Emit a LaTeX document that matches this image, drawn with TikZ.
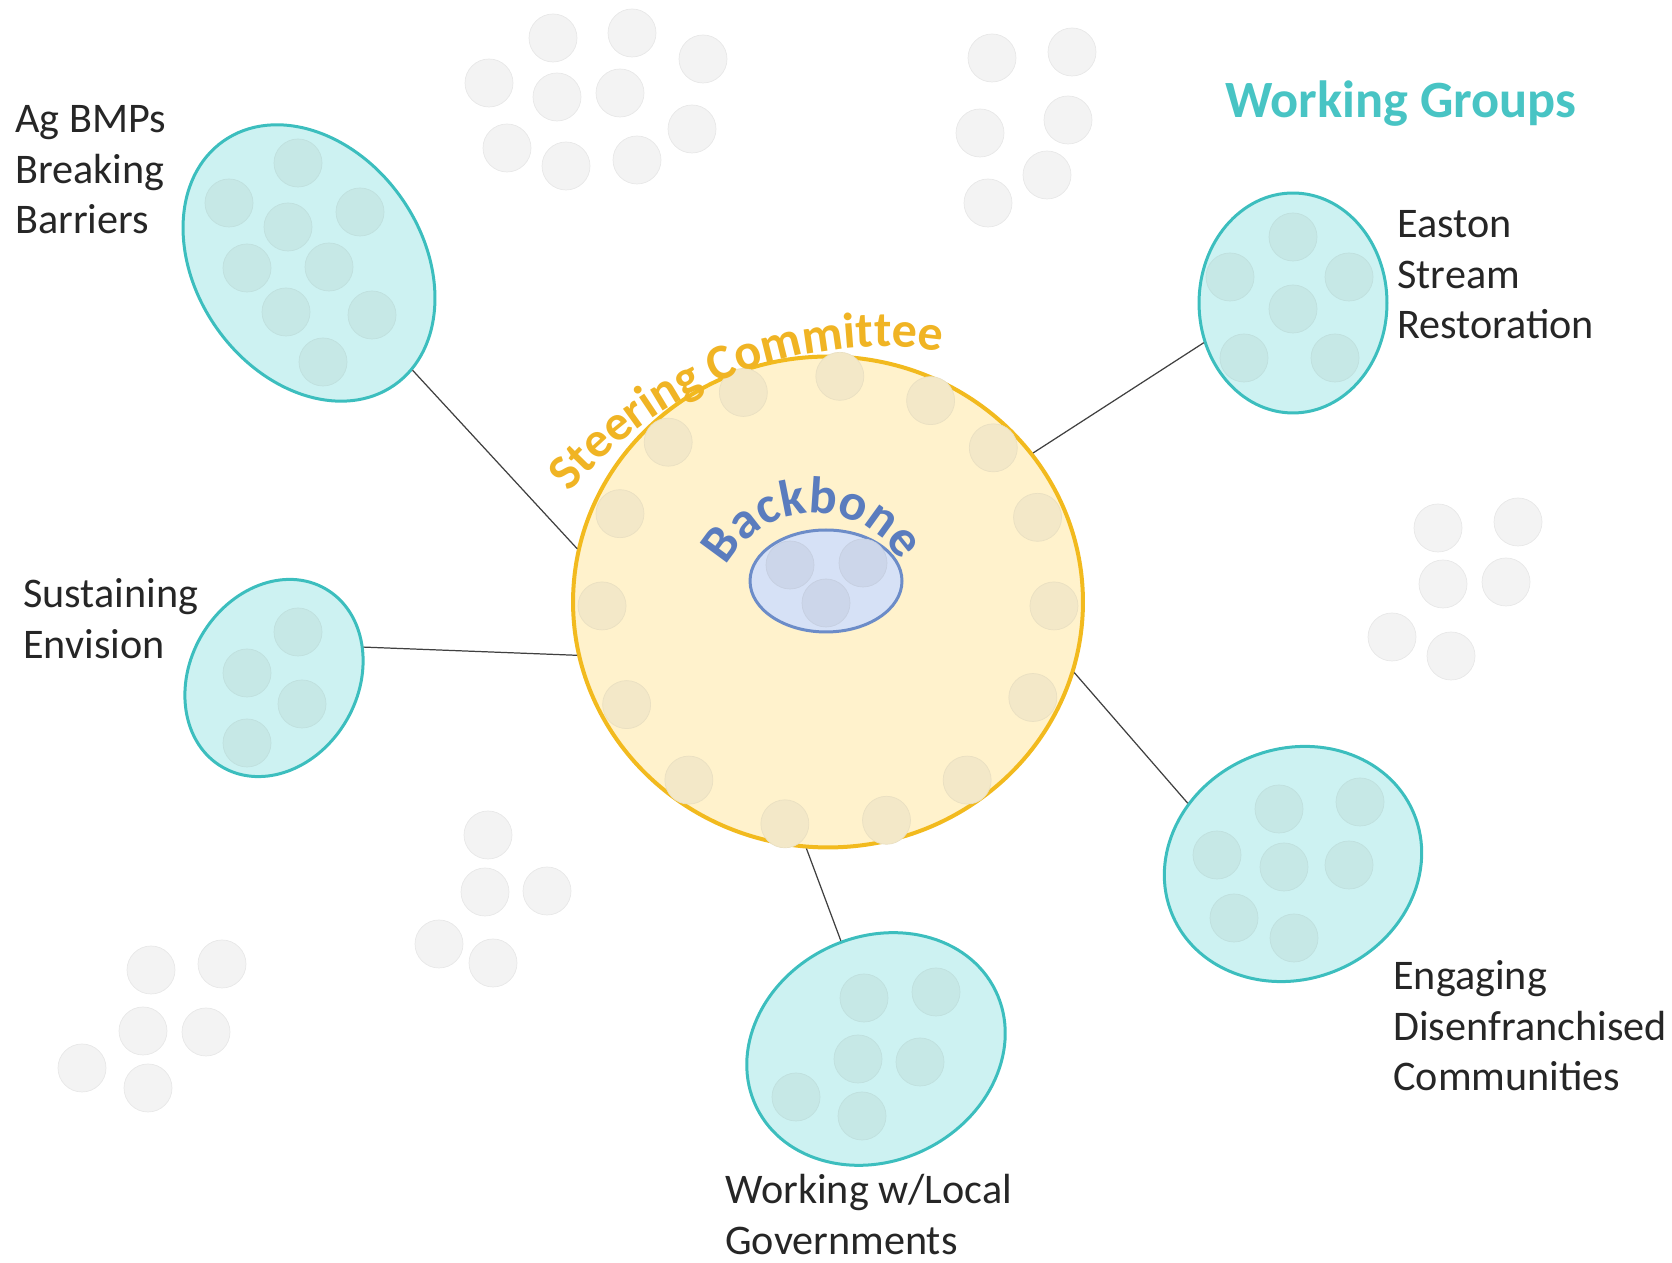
\documentclass[tikz,border=0pt]{standalone}
\usepackage{fontspec}
\setmainfont{Carlito}
\usepackage{tikz}
\usetikzlibrary{shapes.geometric}
\usetikzlibrary{decorations.text}

\definecolor{wgline}{RGB}{60,190,190}
\definecolor{wgfill}{RGB}{205,242,242}
\definecolor{wgdotc}{RGB}{198,232,230}
\definecolor{steerline}{RGB}{242,186,30}
\definecolor{steerfill}{RGB}{255,242,204}
\definecolor{steerdot}{RGB}{243,232,200}
\definecolor{steertext}{RGB}{240,180,36}
\definecolor{backline}{RGB}{108,140,200}
\definecolor{backfill}{RGB}{214,225,246}
\definecolor{backdot}{RGB}{204,214,234}
\definecolor{backtext}{RGB}{90,124,190}
\definecolor{bgdotc}{RGB}{243,243,243}
\definecolor{wgteal}{RGB}{72,196,196}
\definecolor{inkgray}{RGB}{38,38,38}
\definecolor{tiegray}{RGB}{64,64,64}

\tikzset{
	wgroup/.style={ellipse, draw=wgline, fill=wgfill, line width=0.06cm, inner sep=0pt},
	wgdot/.style={fill=wgdotc, draw=wgdotc!92!gray, line width=0.4pt},
	steerdisc/.style={ellipse, draw=steerline, fill=steerfill, line width=0.08cm, inner sep=0pt, minimum width=10.2cm, minimum height=9.82cm},
	ringdot/.style={fill=steerdot, draw=steerdot!92!gray, line width=0.4pt},
	backdisc/.style={ellipse, draw=backline, fill=backfill, line width=0.06cm, inner sep=0pt, minimum width=3.04cm, minimum height=2.04cm},
	bbdot/.style={fill=backdot, draw=backdot!92!gray, line width=0.4pt},
	bgdot/.style={fill=bgdotc, draw=black!9, line width=0.4pt},
	tie/.style={draw=tiegray, line width=0.7pt},
	wglabel/.style={font=\fontsize{24}{28.8}\selectfont, align=left, inner sep=0pt, text=inkgray, anchor=north west}
}

\begin{document}
\begin{tikzpicture}[x=0.02cm,y=0.02cm]
	\useasboundingbox (0,0) rectangle (1672,1263);

	% faint dots scattered round the groups
	\foreach \x/\y in {553/1225, 632/1230, 703/1204, 489/1180, 557/1166, 620/1170, 692/1134, 507/1115, 566/1097, 637/1103,
		992/1205, 1072/1211, 980/1130, 1068/1143, 1047/1088, 988/1060,
		1438/735, 1518/741, 1443/679, 1506/681, 1392/626, 1451/607,
		488/428, 485/371, 547/372, 439/319, 493/300,
		151/293, 222/299, 143/232, 206/231, 82/195, 148/175}
		\fill[bgdot] (\x,\y) circle (24);

	\node[steerdisc] (steer) at (828,661) {};
	\node[backdisc] (backbone) at (826,682) {};

	\node[wgroup, minimum width=4.52cm, minimum height=5.96cm, rotate=35] (agbmp) at (309,1000) {};
	\node[wgroup, minimum width=3.36cm, minimum height=4.12cm, rotate=-30] (sustain) at (274,585) {};
	\node[wgroup, minimum width=3.76cm, minimum height=4.4cm] (easton) at (1293,960) {};
	\node[wgroup, minimum width=5.24cm, minimum height=4.6cm, rotate=23] (engage) at (1293,399) {};
	\node[wgroup, minimum width=5.32cm, minimum height=4.48cm, rotate=26] (localgov) at (876,214) {};

	\foreach \a in {112,87,63,43,22,-1,-25,-52,-75,-101,-128,-153,181,157,135}
		\fill[ringdot] ([shift={(\a:226)}]steer.center) circle (24);
	\foreach \x/\y in {790/698, 863/700, 826/660}
		\fill[bbdot] (\x,\y) circle (24);
	\foreach \x/\y in {298/1100, 229/1060, 360/1051, 288/1036, 247/995, 329/996, 286/951, 372/948, 323/901,
		298/631, 247/590, 302/559, 247/520,
		1293/1026, 1230/986, 1349/986, 1293/954, 1244/905, 1335/905,
		1279/454, 1360/461, 1217/408, 1284/396, 1349/398, 1234/345, 1294/325,
		864/265, 936/271, 858/204, 920/201, 796/166, 862/147}
		\fill[wgdot] (\x,\y) circle (24);

	\draw[tie] (agbmp.-81) -- (steer.168);
	\draw[tie] (sustain.49) -- (steer.192);
	\draw[tie] (easton.204) -- (steer.36);
	\draw[tie] (engage.127) -- (steer.-16);
	\draw[tie] (localgov.82) -- (steer.-95);

	\coordinate (steerarc) at (883,507);
	\coordinate (backarc) at (815,650);
	\path[decorate, decoration={text along path, text={|\fontsize{28.5}{32}\bfseries|Steering Committee},
		text color=steertext, text align={fit to path}}]
		([shift={(140:409)}]steerarc) arc[start angle=140, end angle=82.5, radius=409];
	\path[decorate, decoration={text along path, text={|\fontsize{29.5}{33}\bfseries|Backbone},
		text color=backtext, text align={fit to path}}]
		([shift={(152:100)}]backarc) arc[start angle=152, end angle=37, radius=100];

	\node[font=\fontsize{29.8}{34}\bfseries, text=wgteal, inner sep=0pt, anchor=base west] (wgtitle) at (1225,1145) {Working Groups};

	\node[wglabel] (aglab) at (15,1166) {\strut Ag BMPs\\Breaking\\Barriers};
	\node[wglabel] (sustlab) at (23,691) {\strut Sustaining\\Envision};
	\node[wglabel] (eastlab) at (1397,1061) {\strut Easton\\Stream\\Restoration};
	\node[wglabel] (englab) at (1393,309) {\strut Engaging\\Disenfranchised\\Communities};
	\node[wglabel] (loclab) at (725,95) {\strut Working w/Local\\Governments};
\end{tikzpicture}
\end{document}
